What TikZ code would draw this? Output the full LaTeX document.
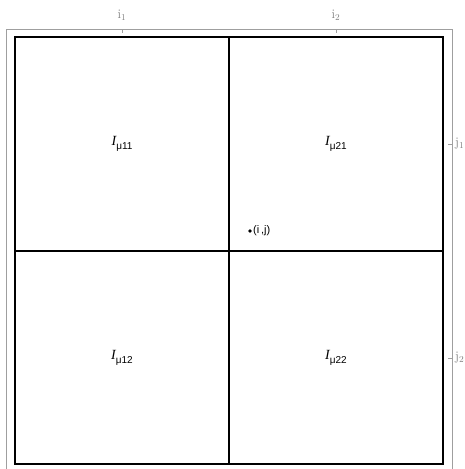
\documentclass[tikz,border=0pt]{standalone}
\usepackage{fontspec}
\setmainfont{Liberation Sans}
\newfontfamily\serifi{Liberation Serif}
\newfontfamily\lmr{Latin Modern Roman}
\newcommand{\cellname}[1]{{\serifi\itshape\fontsize{14}{16}\selectfont I}\raisebox{-3.5pt}{\fontsize{10}{12}\selectfont μ#1}}
\begin{document}
\begin{tikzpicture}[x=1pt,y=-1pt,
  frame/.style={draw=gray!75, line width=0.8pt},
  cell/.style={draw=black, line width=1.3pt},
  ticklbl/.style={text=gray, font=\lmr\fontsize{13}{14}\selectfont, inner sep=0pt},
  lbl/.style={inner sep=0pt}]
\useasboundingbox (0,0) rectangle (464,469);
% gray frame
\draw[frame] (6,472) -- (6,29) -- (452,29) -- (452,472);
% ticks
\draw[frame, line width=0.6pt] (122,29) -- (122,33) (336,29) -- (336,33);
\draw[frame, line width=0.6pt] (452,144) -- (448,144) (452,358) -- (448,358);
\node[ticklbl] (i1) at (122,15) {i$_1$};
\node[ticklbl] (i2) at (336,15) {i$_2$};
\node[ticklbl, anchor=west] (j1) at (455,144) {j\textsubscript{1}};
\node[ticklbl, anchor=west] (j2) at (455,358) {j\textsubscript{2}};
% cells
\draw[cell] (15,37) rectangle (443,464);
\draw[cell] (229,37) -- (229,464);
\draw[cell] (15,251) -- (443,251);
% labels
\node[lbl] (a11) at (122,144) {\cellname{11}};
\node[lbl] (a21) at (336,144) {\cellname{21}};
\node[lbl] (a12) at (122,358) {\cellname{12}};
\node[lbl] (a22) at (336,358) {\cellname{22}};
\fill (250,231) circle (1.8pt);
\node[lbl, anchor=west, font=\fontsize{11}{13}\selectfont] (pt) at (253,231) {(i\,,j)};
\end{tikzpicture}
\end{document}
